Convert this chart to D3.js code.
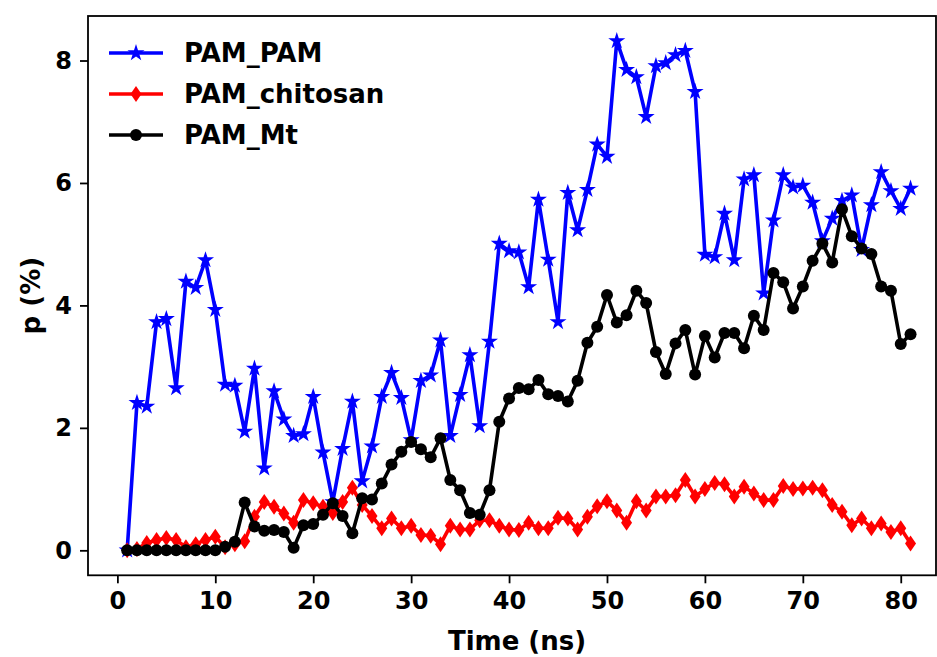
<!DOCTYPE html>
<html><head><meta charset="utf-8">
<script src="https://cdn.jsdelivr.net/npm/d3@7"></script>
<style>body{margin:0;background:#fff}svg{display:block}text{font-family:"DejaVu Sans",sans-serif;font-weight:bold}</style>
</head><body><svg id="c" width="937" height="657"></svg>
<script>
const time = d3.range(1, 82);
const pamPam = [0,2.41,2.35,3.73,3.78,2.65,4.39,4.29,4.74,3.93,2.71,2.69,1.94,2.97,1.34,2.60,2.14,1.87,1.90,2.51,1.60,0.79,1.66,2.43,1.13,1.70,2.51,2.90,2.49,1.80,2.77,2.86,3.43,1.87,2.54,3.19,2.03,3.41,5.01,4.89,4.87,4.30,5.73,4.75,3.73,5.84,5.23,5.89,6.63,6.43,8.32,7.85,7.73,7.08,7.91,7.96,8.09,8.16,7.49,4.83,4.79,5.50,4.74,6.06,6.13,4.20,5.39,6.13,5.93,5.96,5.68,5.05,5.42,5.71,5.80,4.91,5.64,6.18,5.87,5.58,5.91];
const pamChitosan = [0,0.02,0.12,0.17,0.2,0.17,0.05,0.1,0.17,0.22,0.05,0.1,0.15,0.55,0.79,0.71,0.60,0.45,0.82,0.77,0.71,0.61,0.79,1.02,0.74,0.56,0.36,0.52,0.36,0.40,0.25,0.24,0.10,0.40,0.34,0.34,0.49,0.49,0.40,0.34,0.33,0.45,0.36,0.36,0.53,0.52,0.34,0.55,0.72,0.80,0.65,0.45,0.80,0.65,0.88,0.88,0.90,1.15,0.88,1.00,1.10,1.08,0.88,1.04,0.93,0.82,0.82,1.05,1.00,1.01,1.02,0.98,0.74,0.63,0.41,0.52,0.36,0.44,0.30,0.36,0.11];
const pamMt = [0,0,0,0,0,0,0,0,0,0,0.06,0.14,0.78,0.39,0.32,0.33,0.30,0.04,0.41,0.43,0.58,0.77,0.56,0.28,0.85,0.83,1.09,1.40,1.61,1.77,1.65,1.52,1.83,1.15,0.98,0.61,0.58,0.98,2.10,2.48,2.65,2.63,2.78,2.55,2.52,2.43,2.77,3.39,3.65,4.17,3.72,3.84,4.24,4.04,3.24,2.88,3.38,3.60,2.87,3.50,3.15,3.55,3.55,3.30,3.83,3.60,4.53,4.38,3.95,4.31,4.73,5.01,4.70,5.57,5.13,4.93,4.84,4.31,4.24,3.37,3.53];
const xTicks = [0,10,20,30,40,50,60,70,80];
const yTicks = [0,2,4,6,8];
const seriesNames = ["PAM_PAM","PAM_chitosan","PAM_Mt"];
const seriesColors = ["#0000ff","#ff0000","#000000"];

const svg = d3.select("#c");
const L=88, R=936, T=16, B=575.3;
const x = d3.scaleLinear().domain([-3, 83.6]).range([L, R]);
const y = d3.scaleLinear().domain([-0.408, 8.727]).range([B, T]);

const xa = svg.append("g").attr("transform",`translate(0,${B})`)
  .call(d3.axisBottom(x).tickValues(xTicks).tickSize(8).tickPadding(6).tickFormat(d3.format("d")));
const ya = svg.append("g").attr("transform",`translate(${L},0)`)
  .call(d3.axisLeft(y).tickValues(yTicks).tickSize(8).tickPadding(8).tickFormat(d3.format("d")));
[xa,ya].forEach(a=>{a.select(".domain").remove();a.selectAll("line").attr("stroke","#000").attr("stroke-width",1.8);
  a.selectAll("text").attr("font-size",24).attr("fill","#000").attr("font-family","DejaVu Sans").attr("font-weight","bold");});
xa.selectAll("text").attr("dy","0.82em");

svg.append("rect").attr("x",L).attr("y",T).attr("width",R-L).attr("height",B-T)
  .attr("fill","none").attr("stroke","#000").attr("stroke-width",1.8);

const data = [pamPam, pamChitosan, pamMt];
const line = d3.line().x((d,i)=>x(time[i])).y(d=>y(d));
const star = d3.symbol().type(d3.symbolStar).size(90);
const diamond = "M0,-8L5.5,0L0,8L-5.5,0Z";

function marker(g, k, cx, cy){
  if(k===0) g.append("path").attr("d",star()).attr("transform",`translate(${cx},${cy})`).attr("fill",seriesColors[0]);
  else if(k===1) g.append("path").attr("d",diamond).attr("transform",`translate(${cx},${cy})`).attr("fill",seriesColors[1]);
  else g.append("circle").attr("cx",cx).attr("cy",cy).attr("r",6).attr("fill",seriesColors[2]);
}

data.forEach((vals,k)=>{
  const g = svg.append("g");
  g.append("path").datum(vals).attr("d",line).attr("fill","none")
    .attr("stroke",seriesColors[k]).attr("stroke-width",3.6).attr("stroke-linejoin","round");
  vals.forEach((v,i)=>marker(g,k,x(time[i]),y(v)));
});

const lg = svg.append("g");
seriesNames.forEach((n,k)=>{
  const yy = 53 + k*41;
  lg.append("line").attr("x1",109).attr("x2",163).attr("y1",yy).attr("y2",yy)
    .attr("stroke",seriesColors[k]).attr("stroke-width",3.6);
  marker(lg,k,136,yy);
  lg.append("text").attr("x",184).attr("y",yy).attr("dy","0.36em").attr("font-size",26).text(n);
});

svg.append("text").attr("x",517).attr("y",650).attr("text-anchor","middle").attr("font-size",26).text("Time (ns)");
svg.append("text").attr("transform",`translate(40,${(T+B)/2}) rotate(-90)`).attr("text-anchor","middle").attr("font-size",26).text("p (%)");
</script></body></html>
